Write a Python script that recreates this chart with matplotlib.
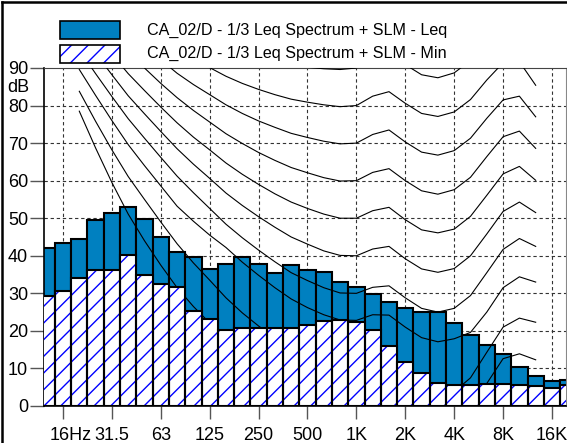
import numpy as np
import matplotlib.pyplot as plt
from matplotlib.patches import Rectangle
from matplotlib.lines import Line2D
from matplotlib.transforms import blended_transform_factory

plt.rcParams['font.family'] = ['Liberation Sans', 'DejaVu Sans']
plt.rcParams['hatch.linewidth'] = 1.0

# 1/3 octave bands, 12.5 Hz .. 20 kHz
bands = [12.5, 16, 20, 25, 31.5, 40, 50, 63, 80, 100, 125, 160, 200, 250, 315, 400,
         500, 630, 800, 1000, 1250, 1600, 2000, 2500, 3150, 4000, 5000, 6300, 8000,
         10000, 12500, 16000, 20000]
leq = [42.2, 43.4, 44.4, 49.6, 51.4, 52.9, 49.9, 45.0, 40.9, 39.6, 36.5, 37.9, 39.6,
       37.9, 35.4, 37.6, 36.1, 35.6, 33.1, 31.6, 29.9, 27.6, 26.0, 24.9, 25.0, 22.2,
       18.9, 16.3, 13.8, 10.5, 8.1, 6.6, 6.9]
lmin = [29.3, 30.5, 34.2, 36.3, 36.3, 40.1, 34.8, 32.5, 31.6, 25.3, 23.1, 20.3, 20.7,
        20.9, 20.9, 20.9, 21.6, 22.7, 22.9, 22.5, 20.2, 16.0, 11.6, 8.7, 6.2, 5.6,
        5.6, 5.8, 5.9, 5.6, 5.2, 4.7, 5.6]

tick_bands = [16, 31.5, 63, 125, 250, 500, 1000, 2000, 4000, 8000, 16000]
tick_labels = ['16Hz', '31.5', '63', '125', '250', '500', '1K', '2K', '4K', '8K', '16K']

# loudness contours (dB), 20 Hz .. 12.5 kHz
contour_freqs = [20, 25, 31.5, 40, 50, 63, 80, 100, 125, 160, 200, 250, 315, 400, 500,
                 630, 800, 1000, 1250, 1600, 2000, 2500, 3150, 4000, 5000, 6300, 8000,
                 10000, 12500]
threshold = [78.5, 68.7, 59.5, 51.1, 44.0, 37.5, 31.5, 26.5, 22.1, 17.9, 14.4, 11.4, 8.6,
             6.2, 4.4, 3.0, 2.2, 2.4, 3.5, 1.7, -1.3, -4.2, -6.0, -5.4, -1.5, 6.0, 12.6,
             13.9, 12.3]
phon10 = [83.8, 75.8, 68.2, 61.1, 55.0, 49.0, 43.2, 38.1, 33.5, 28.8, 24.8, 21.3, 18.1,
          15.1, 13.0, 11.2, 10.0, 10.0, 11.3, 10.4, 7.3, 4.5, 3.0, 3.8, 7.5, 14.3, 21.0,
          23.4, 22.3]
phon20 = [89.6, 82.7, 76.0, 69.6, 64.0, 58.6, 53.2, 49.2, 45.5, 42.2, 38.3, 34.8, 31.5,
          28.5, 26.2, 24.3, 22.9, 22.8, 24.3, 24.2, 21.0, 18.2, 17.1, 17.9, 19.6, 25.0,
          31.5, 34.4, 33.0]
phon30 = [94.8, 88.5, 82.4, 76.5, 71.3, 66.2, 61.2, 56.8, 52.6, 48.4, 44.8, 41.5, 38.4,
          35.5, 33.4, 31.5, 30.1, 30.0, 31.6, 32.0, 28.8, 26.0, 25.0, 26.0, 29.4, 35.5,
          41.7, 44.6, 42.5]
phon40 = [99.9, 93.9, 88.2, 82.6, 77.8, 73.1, 68.5, 64.4, 60.6, 56.7, 53.4, 50.4, 47.6,
          45.0, 43.1, 41.3, 40.1, 40.0, 41.8, 42.5, 39.2, 36.5, 35.6, 36.6, 40.0, 45.8,
          51.8, 54.3, 51.5]
phon50 = [104.7, 99.1, 93.7, 88.5, 84.0, 79.6, 75.4, 71.6, 68.2, 64.7, 61.7, 59.0, 56.5,
          54.3, 52.6, 51.1, 50.0, 50.0, 52.0, 52.9, 49.6, 46.9, 46.1, 47.1, 50.5, 56.1,
          61.8, 63.8, 60.1]
phon60 = [109.5, 104.2, 99.1, 94.2, 90.0, 85.9, 82.1, 78.7, 75.6, 72.5, 69.9, 67.5, 65.4,
          63.5, 62.1, 60.8, 59.9, 60.0, 62.2, 63.2, 60.0, 57.3, 56.4, 57.6, 60.9, 66.4,
          71.7, 73.2, 68.6]
phon70 = [114.3, 109.2, 104.4, 99.8, 95.9, 92.2, 88.6, 85.6, 82.9, 80.2, 77.9, 75.9, 74.2,
          72.6, 71.5, 70.5, 69.8, 70.0, 72.3, 73.5, 70.3, 67.6, 66.8, 68.0, 71.3, 76.6,
          81.5, 82.5, 77.0]
phon80 = [119.0, 114.2, 109.6, 105.3, 101.7, 98.4, 95.2, 92.5, 90.1, 87.8, 85.9, 84.3,
          82.9, 81.7, 80.9, 80.2, 79.7, 80.0, 82.5, 83.7, 80.6, 77.9, 77.1, 78.3, 81.6,
          86.8, 91.4, 91.7, 85.4]
phon90 = [123.7, 119.2, 114.9, 110.9, 107.5, 104.5, 101.7, 99.3, 97.3, 95.4, 93.9, 92.6,
          91.6, 90.8, 90.2, 89.8, 89.6, 90.0, 92.6, 94.0, 90.9, 88.2, 87.4, 88.7, 92.0,
          97.0, 101.3, 101.0, 93.7]

LEQ_BLUE = '#0080c0'
W, H = 567, 443

x = np.arange(len(bands))
cx = [bands.index(f) for f in contour_freqs]
tx = [bands.index(f) for f in tick_bands]

fig = plt.figure(figsize=(W / 100, H / 100), dpi=100)
ax = fig.add_axes([44 / W, 37 / H, 522 / W, 338 / H])

ax.bar(x, leq, width=1, color=LEQ_BLUE, edgecolor='black', linewidth=1.5, zorder=2)
for c in [threshold, phon10, phon20, phon30, phon40, phon50, phon60, phon70, phon80, phon90]:
    ax.plot(cx, c, color='black', lw=0.8, zorder=3)
ax.bar(x, lmin, width=1, color='white', edgecolor='blue', hatch='//', linewidth=0, zorder=4)
ax.bar(x, lmin, width=1, fill=False, edgecolor='black', linewidth=1.5, zorder=5)

# dashed grid
for t in tx:
    ax.axvline(t, color='#333333', lw=0.8, ls=(0, (3, 2.5)), zorder=1)
for yv in range(10, 90, 10):
    ax.axhline(yv, color='#333333', lw=0.8, ls=(0, (3, 2.5)), zorder=1)

ax.set_xlim(-0.166, 31.86)
ax.set_ylim(0, 90)
ax.set_yticks(range(0, 91, 10))
ax.set_xticks(tx)
ax.set_xticklabels([])
ax.tick_params(axis='y', direction='out', length=10, width=1, color='#555555',
               labelsize=13, pad=1.5)
ax.tick_params(axis='x', direction='out', length=9, width=1, color='#555555')
for s in ['left', 'bottom']:
    ax.spines[s].set_color('black')
    ax.spines[s].set_linewidth(1.2)
ax.spines['top'].set_color('#444444')
ax.spines['right'].set_color('#888888')

lab_tr = blended_transform_factory(ax.transData, ax.transAxes)
for t, lab in zip(tx, tick_labels):
    xpos = t + 0.5 if lab == '16Hz' else t
    ax.text(xpos, -34 / 338, lab, transform=lab_tr, ha='center', va='baseline',
            fontsize=13)

fig.text(18 / W, 1 - 87.5 / H, 'dB', ha='center', va='center', fontsize=13)

# legend
fig.add_artist(Rectangle((59.5 / W, 1 - 39 / H), 60 / W, 18 / H, transform=fig.transFigure,
                         facecolor=LEQ_BLUE, edgecolor='black', lw=1.2))
fig.add_artist(Rectangle((59.5 / W, 1 - 62.5 / H), 60 / W, 18 / H, transform=fig.transFigure,
                         facecolor='white', edgecolor='blue', hatch='//', lw=0))
fig.add_artist(Rectangle((59.5 / W, 1 - 62.5 / H), 60 / W, 18 / H, transform=fig.transFigure,
                         fill=False, edgecolor='black', lw=1.2))
fig.text(147 / W, 1 - 30 / H, 'CA_02/D - 1/3 Leq Spectrum + SLM - Leq', va='center',
         fontsize=11.6)
fig.text(147 / W, 1 - 53 / H, 'CA_02/D - 1/3 Leq Spectrum + SLM - Min', va='center',
         fontsize=11.6)

# outer frame
fig.add_artist(Line2D([2 / W, 2 / W], [0, 1 - 2 / H], transform=fig.transFigure,
                      color='black', lw=1.8))
fig.add_artist(Line2D([2 / W, 1], [1 - 2 / H, 1 - 2 / H], transform=fig.transFigure,
                      color='black', lw=1.8))

fig.savefig('out.png', dpi=100)
